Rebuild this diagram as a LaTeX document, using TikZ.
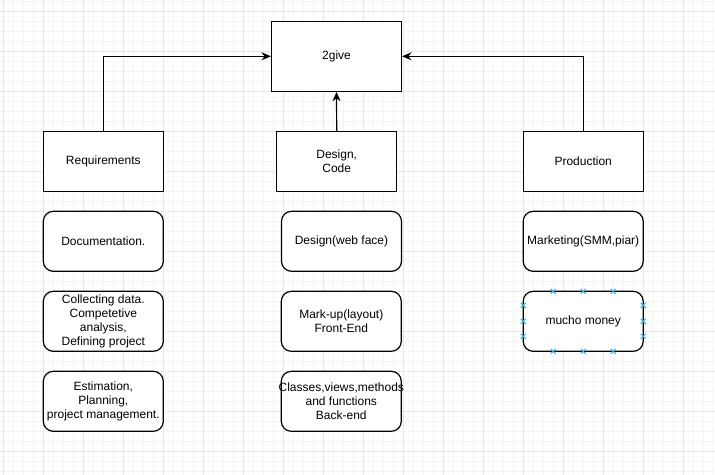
\documentclass[tikz,border=0pt]{standalone}
\usepackage{fontspec}
\setmainfont{Liberation Sans}
\usetikzlibrary{arrows.meta}
\definecolor{minorgrid}{HTML}{F5F5F5}
\definecolor{majorgrid}{HTML}{E8E8E8}
\definecolor{handle}{HTML}{29B6F2}
\tikzset{
  sqbox/.style={draw=black, line width=0.9pt, fill=white, minimum width=90pt, minimum height=45pt, align=center, font=\fontsize{9pt}{10.5pt}\selectfont, inner sep=0pt},
  rbox/.style={sqbox, rounded corners=7.5pt},
  arr/.style={draw=black, line width=0.9pt, -{Stealth[length=7pt,width=6pt]}},
}
\begin{document}
\begin{tikzpicture}[x=0.75pt,y=-0.75pt]
\useasboundingbox (0,0) rectangle (715,475);
\fill[white] (0,0) rectangle (715,475);
% grid
\foreach \i in {0,...,71} {
  \draw[minorgrid, line width=0.5pt] (3.3+10*\i,0) -- (3.3+10*\i,475);
}
\foreach \j in {0,...,47} {
  \draw[minorgrid, line width=0.5pt] (0,1.7+10*\j) -- (715,1.7+10*\j);
}
\foreach \i in {0,...,17} {
  \draw[majorgrid, line width=0.6pt] (3.3+40*\i,0) -- (3.3+40*\i,475);
}
\foreach \j in {0,...,11} {
  \draw[majorgrid, line width=0.6pt] (0,11.7+40*\j) -- (715,11.7+40*\j);
}
% nodes
\node[sqbox, minimum width=97.5pt, minimum height=52.5pt] (give) at (336.5,56.3) {2give};
\node[sqbox] (req) at (103.3,161.5) {Requirements};
\node[sqbox] (des) at (336.7,161.5) {Design,\\Code};
\node[sqbox] (prod) at (583.2,161.5) {Production};
\node[rbox] (doc) at (103.3,241.3) {Documentation.};
\node[rbox] (coll) at (103.3,321.3) {Collecting data.\\Competetive\\analysis,\\Defining project};
\node[rbox] (est) at (103.3,401.3) {Estimation,\\Planning,\\project management.};
\node[rbox] (web) at (341.5,241.3) {Design(web face)};
\node[rbox] (mark) at (341.3,321.3) {Mark-up(layout)\\Front-End};
\node[rbox] (cls) at (341.3,401.3) {\makebox[0pt]{Classes,views,methods}\\and functions\\Back-end};
\node[rbox] (mkt) at (583.2,241.3) {Marketing(SMM,piar)};
\node[rbox] (money) at (583.2,321.3) {mucho money};
% connectors
\draw[arr] (req.north) |- (give.west);
\draw[arr] (prod.north) |- (give.east);
\draw[arr] (des.north) -- (give.south);
% selection handles
\foreach \hx/\hy in {553.2/291.3,583.2/291.3,613.2/291.3,553.2/351.3,583.2/351.3,613.2/351.3,523.2/305.3,523.2/321.3,523.2/336.3,643.2/305.3,643.2/321.3,643.2/336.3} {
  \draw[handle, line width=0.7pt] (\hx-2.5,\hy-2.5) -- (\hx+2.5,\hy+2.5) (\hx-2.5,\hy+2.5) -- (\hx+2.5,\hy-2.5);
}
\end{tikzpicture}
\end{document}
